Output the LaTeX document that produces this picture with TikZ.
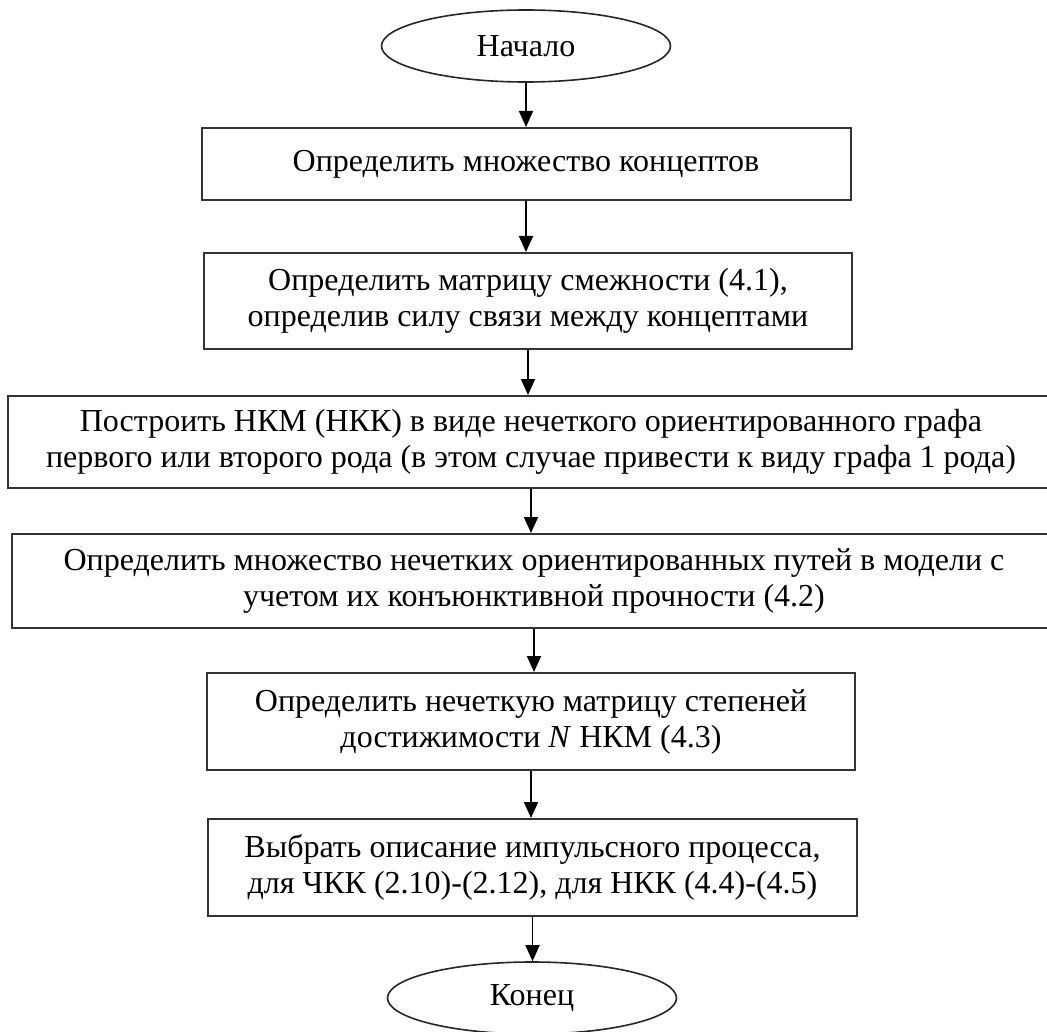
\documentclass[tikz,border=0pt]{standalone}
\usepackage{fontspec}
\setmainfont{Liberation Serif}
\usetikzlibrary{arrows.meta,shapes.geometric}
\begin{document}
\begin{tikzpicture}[x=1pt,y=-1pt,
  every node/.style={font=\fontsize{32}{36}\selectfont, align=center, inner sep=0pt},
  terminal/.style={ellipse, draw=black!85, line width=1.6pt, minimum width=289pt, minimum height=72pt},
  stepbox/.style={rectangle, draw=black!80, line width=2pt},
  flow/.style={line width=1.8pt, -{Triangle[length=16pt,width=14pt]}}]
  \useasboundingbox (0,0) rectangle (1047,1032);

  \node[terminal] (start) at (526,46) {Начало};
  \node[stepbox, minimum width=649pt, minimum height=72pt] (s1) at (526,164)
    {Определить множество концептов};
  \node[stepbox, minimum width=648pt, minimum height=96pt] (s2) at (528,301)
    {Определить матрицу смежности (4.1),\\определив силу связи между концептами};
  \node[stepbox, minimum width=1046pt, minimum height=92pt] (s3) at (531,442)
    {Построить НКМ (НКК) в виде нечеткого ориентированного графа\\первого или второго рода (в этом случае привести к виду графа 1 рода)};
  \node[stepbox, minimum width=1044pt, minimum height=94pt] (s4) at (534,581)
    {Определить множество нечетких ориентированных путей в модели с\\учетом их конъюнктивной прочности (4.2)};
  \node[stepbox, minimum width=648pt, minimum height=97pt] (s5) at (531,721.5)
    {Определить нечеткую матрицу степеней\\достижимости \textit{N} НКМ (4.3)};
  \node[stepbox, minimum width=649pt, minimum height=97pt] (s6) at (532.5,867.5)
    {Выбрать описание импульсного процесса,\\для ЧКК (2.10)-(2.12), для НКК (4.4)-(4.5)};
  \node[terminal] (end) at (532,998) {Конец};

  \foreach \a/\b in {start/s1, s1/s2, s2/s3, s3/s4, s4/s5, s5/s6, s6/end}
    \draw[flow] (\a.south) -- (\a.south |- \b.north);
\end{tikzpicture}
\end{document}
